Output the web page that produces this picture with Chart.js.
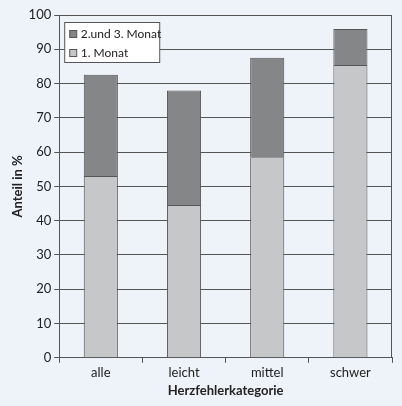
<!DOCTYPE html>
<html>
<head>
<meta charset="utf-8">
<script src="https://cdn.jsdelivr.net/npm/chart.js@4"></script>
<style>
  html, body { margin: 0; padding: 0; background: #eef2f9; }
</style>
</head>
<body>
<canvas id="chart" width="402" height="406"></canvas>
<script>
const categories = ['alle', 'leicht', 'mittel', 'schwer'];
const month1 = [53.0, 44.6, 58.5, 85.4];
const month2to3 = [29.6, 33.4, 29.0, 10.5];
const seriesNames = ['1. Monat', '2.und 3. Monat'];

const lightGrey = '#c6c7c9';
const darkGrey = '#858688';
const lineColor = '#555555';
const textColor = '#222222';
const fontFamily = 'Lato, sans-serif';

// legend box inside the plot, dark series first; right border of the plot
const plotExtras = {
    id: 'plotExtras',
    afterDraw(chart) {
        const a = chart.chartArea;
        const ctx = chart.ctx;
        ctx.save();
        ctx.strokeStyle = lineColor;
        ctx.lineWidth = 1;
        ctx.beginPath();
        ctx.moveTo(a.right - 0.5, a.top);
        ctx.lineTo(a.right - 0.5, a.bottom);
        ctx.stroke();

        const x = a.left + 5.5, y = 22.5, w = 95, h = 40;
        ctx.fillStyle = '#ffffff';
        ctx.fillRect(x, y, w, h);
        ctx.strokeRect(x, y, w, h);
        const items = [[seriesNames[1], darkGrey], [seriesNames[0], lightGrey]];
        ctx.font = '12px ' + fontFamily;
        ctx.textBaseline = 'middle';
        items.forEach(function(item, i) {
            const cy = Math.round(y + 11 + i * 19);
            ctx.fillStyle = item[1];
            ctx.fillRect(x + 5, cy - 3.5, 7, 7);
            ctx.strokeRect(x + 5, cy - 3.5, 7, 7);
            ctx.fillStyle = textColor;
            ctx.fillText(item[0], x + 16, cy + 0.5);
        });
        ctx.restore();
    }
};

new Chart(document.getElementById('chart'), {
    type: 'bar',
    data: {
        labels: categories,
        datasets: [
            { label: seriesNames[0], data: month1, backgroundColor: lightGrey, borderColor: lineColor, borderWidth: 1 },
            { label: seriesNames[1], data: month2to3, backgroundColor: darkGrey, borderColor: lineColor, borderWidth: 1 }
        ]
    },
    options: {
        responsive: false,
        animation: false,
        layout: { padding: { left: 0, right: 10, top: 15, bottom: 6 } },
        categoryPercentage: 1,
        barPercentage: 0.41,
        plugins: { legend: { display: false } },
        scales: {
            x: {
                stacked: true,
                grid: { drawOnChartArea: false, color: lineColor, tickLength: 5 },
                border: { color: lineColor },
                ticks: { font: { family: fontFamily, size: 13 }, padding: 2, color: textColor },
                title: { display: true, color: textColor, text: 'Herzfehlerkategorie', font: { family: fontFamily, size: 13, weight: 'bold' }, padding: { top: 1, bottom: 1 } }
            },
            y: {
                stacked: true,
                min: 0,
                max: 100,
                grid: { color: lineColor, tickLength: 5 },
                border: { color: lineColor },
                ticks: { font: { family: fontFamily, size: 13 }, padding: 3, stepSize: 10, color: textColor },
                title: { display: true, color: textColor, text: 'Anteil in %', font: { family: fontFamily, size: 13, weight: 'bold' }, padding: { top: 10, bottom: 0 } }
            }
        }
    },
    plugins: [plotExtras]
});
</script>
</body>
</html>
